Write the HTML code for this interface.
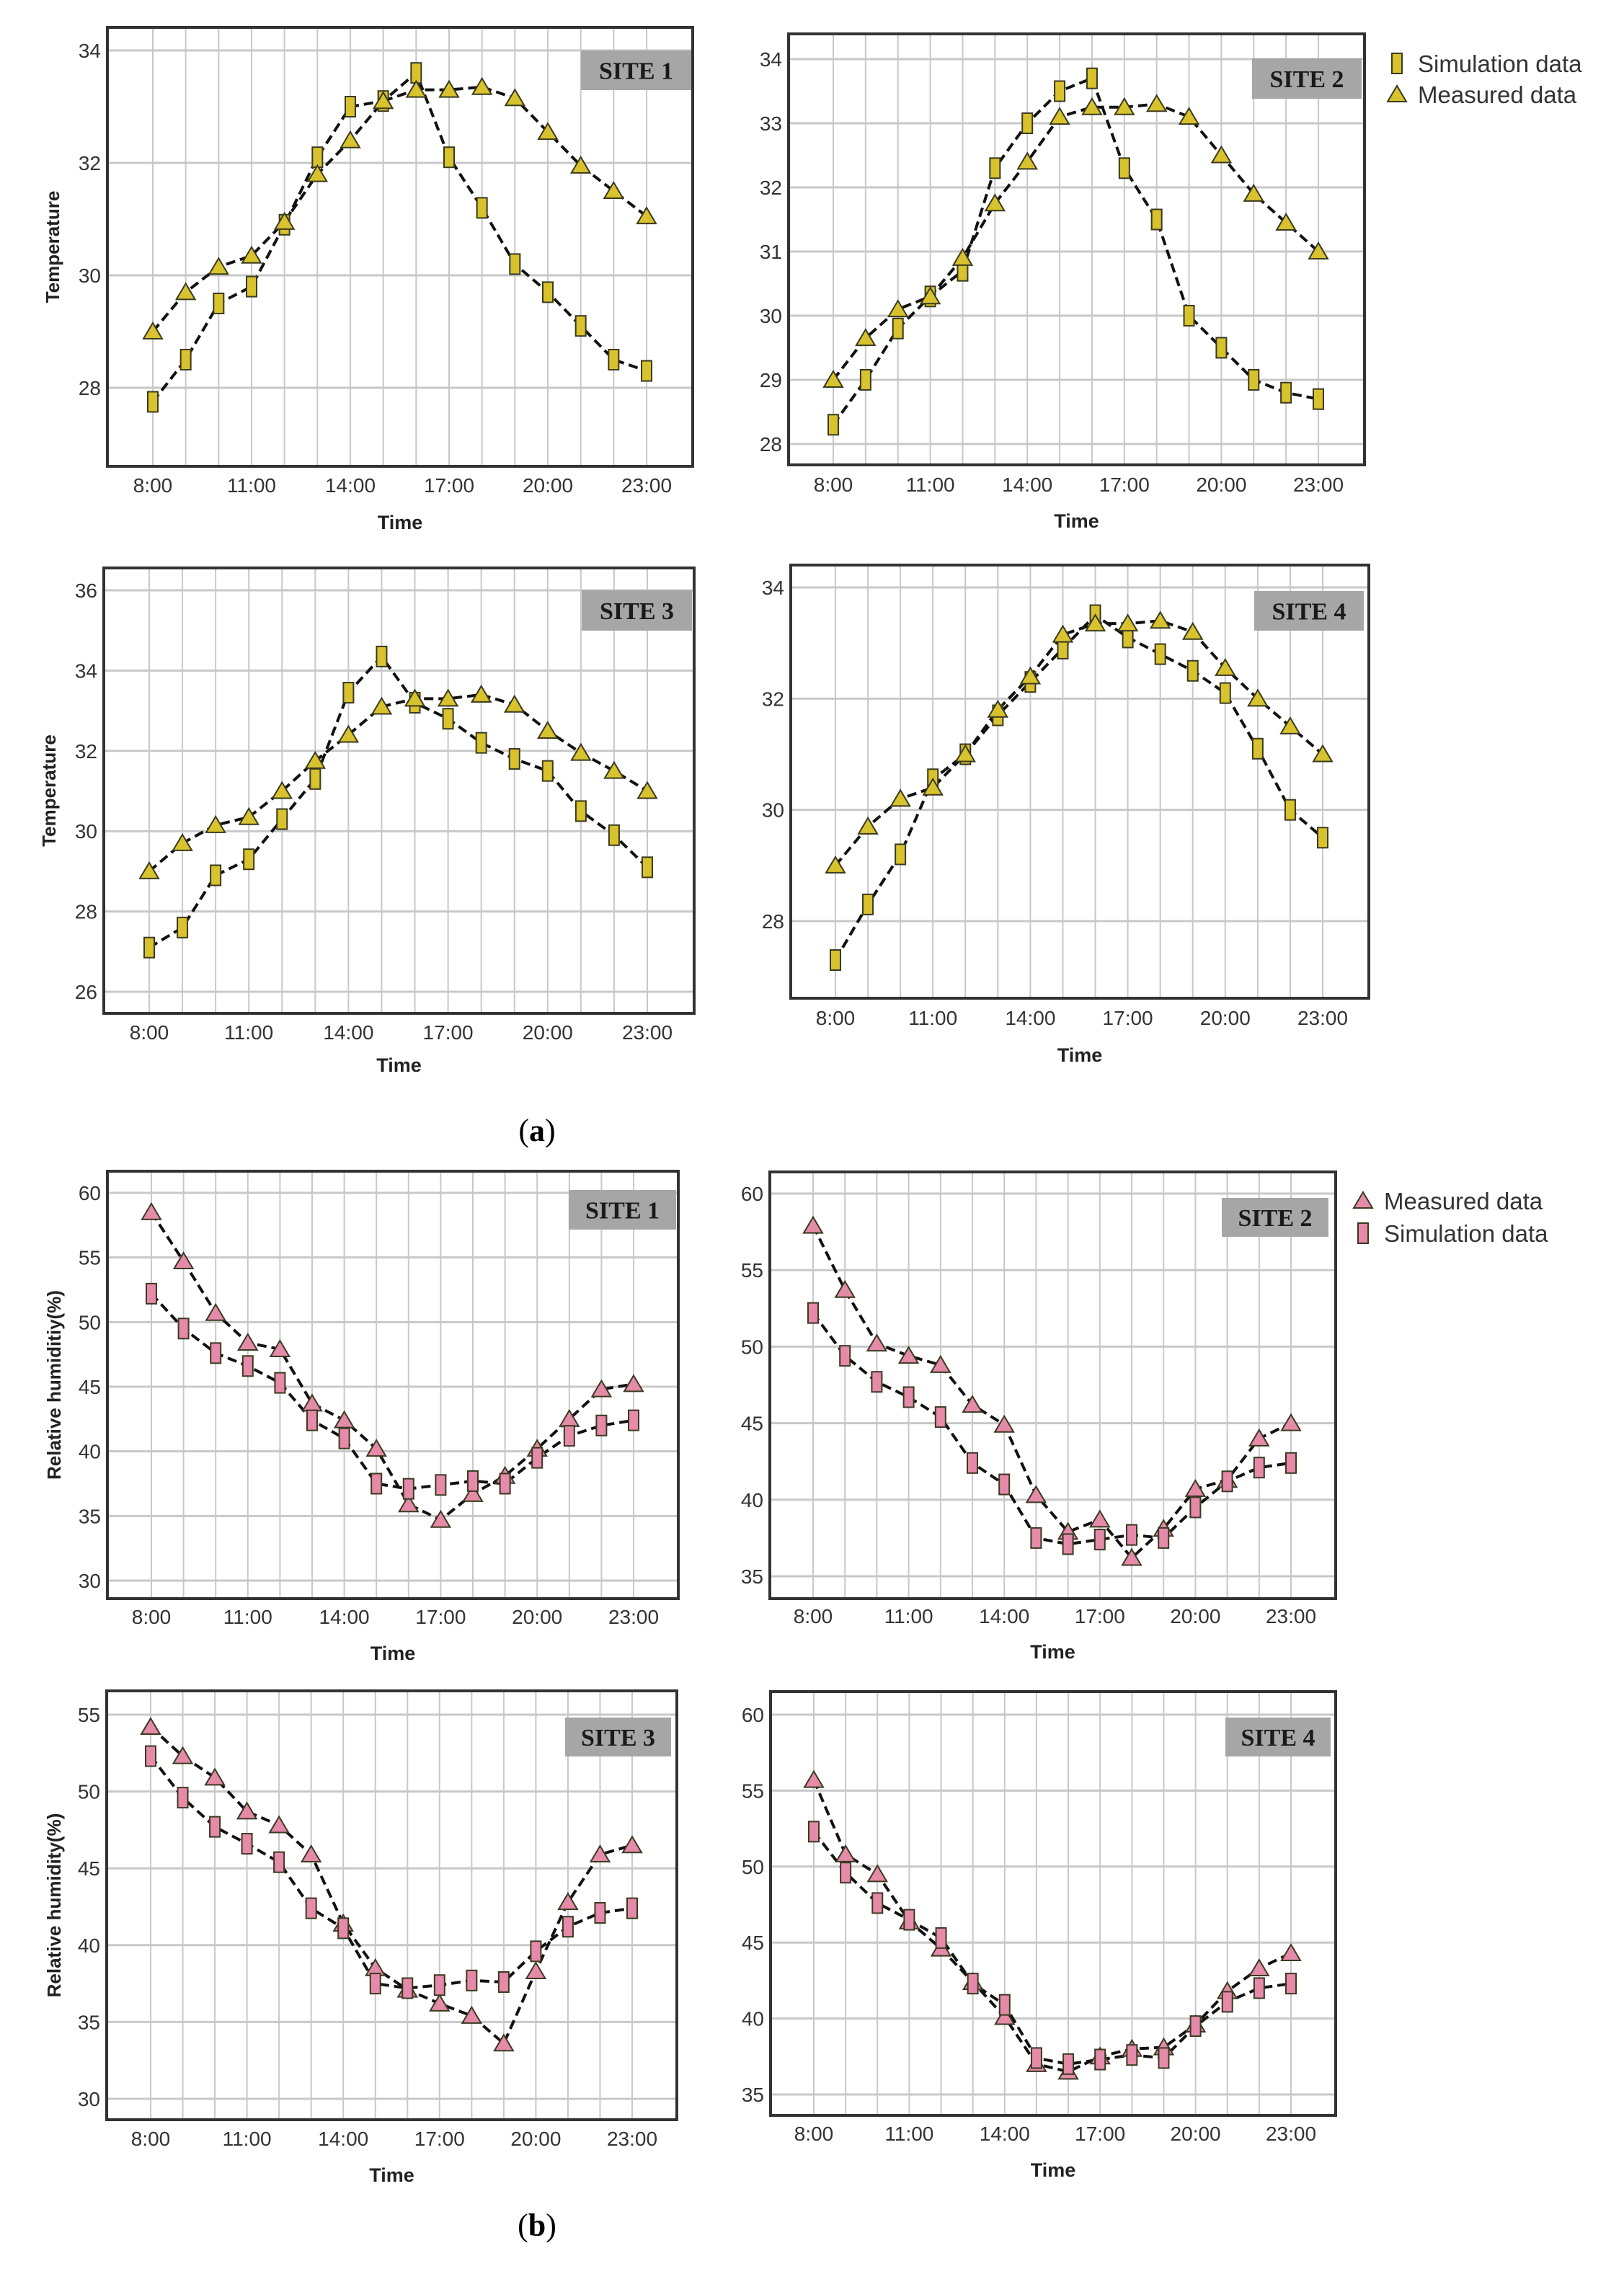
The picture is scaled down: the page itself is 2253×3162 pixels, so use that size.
<!DOCTYPE html>
<html><head><meta charset="utf-8"><style>
html,body{margin:0;padding:0;background:#fff;}
svg{display:block;}
</style></head><body>
<svg id="fig" width="2253" height="3162" viewBox="0 0 2253 3162" xmlns="http://www.w3.org/2000/svg">
<rect width="2253" height="3162" fill="#fff"/>
<text x="745" y="1583" font-family="Liberation Serif, serif" font-size="44" text-anchor="middle">(<tspan font-weight="bold">a</tspan>)</text>
<text x="745" y="3102" font-family="Liberation Serif, serif" font-size="44" text-anchor="middle">(<tspan font-weight="bold">b</tspan>)</text>
</svg>
<script>
const hours = ["8:00","9:00","10:00","11:00","12:00","13:00","14:00","15:00","16:00","17:00","18:00","19:00","20:00","21:00","22:00","23:00"];
const xTickLabels = ["8:00","11:00","14:00","17:00","20:00","23:00"];
const tempTicks1 = [28,30,32,34];
const tempTicks2 = [28,29,30,31,32,33,34];
const tempTicks3 = [26,28,30,32,34,36];
const tempTicks4 = [28,30,32,34];
const humTicks1 = [30,35,40,45,50,55,60];
const humTicks2 = [35,40,45,50,55,60];
const humTicks3 = [30,35,40,45,50,55];
const humTicks4 = [35,40,45,50,55,60];
const t1Sim = [27.75,28.5,29.5,29.8,30.9,32.1,33.0,33.1,33.6,32.1,31.2,30.2,29.7,29.1,28.5,28.3];
const t1Meas = [29.0,29.7,30.15,30.35,30.95,31.8,32.4,33.1,33.3,33.3,33.35,33.15,32.55,31.95,31.5,31.05];
const t2Sim = [28.3,29.0,29.8,30.3,30.7,32.3,33.0,33.5,33.7,32.3,31.5,30.0,29.5,29.0,28.8,28.7];
const t2Meas = [29.0,29.65,30.1,30.3,30.9,31.75,32.4,33.1,33.25,33.25,33.3,33.1,32.5,31.9,31.45,31.0];
const t3Sim = [27.1,27.6,28.9,29.3,30.3,31.3,33.45,34.35,33.2,32.8,32.2,31.8,31.5,30.5,29.9,29.1];
const t3Meas = [29.0,29.7,30.15,30.35,31.0,31.75,32.4,33.1,33.3,33.3,33.4,33.15,32.5,31.95,31.5,31.0];
const t4Sim = [27.3,28.3,29.2,30.55,31.0,31.7,32.3,32.9,33.5,33.1,32.8,32.5,32.1,31.1,30.0,29.5];
const t4Meas = [29.0,29.7,30.2,30.4,31.0,31.8,32.4,33.15,33.35,33.35,33.4,33.2,32.55,32.0,31.5,31.0];
const h1Sim = [52.2,49.5,47.6,46.6,45.3,42.4,41.0,37.5,37.1,37.4,37.7,37.5,39.5,41.2,42.0,42.4];
const h1Meas = [58.5,54.7,50.7,48.4,47.9,43.7,42.4,40.2,35.9,34.7,36.7,38.1,40.2,42.5,44.8,45.2];
const h2Sim = [52.2,49.4,47.7,46.7,45.4,42.4,41.0,37.5,37.1,37.4,37.7,37.5,39.5,41.2,42.1,42.4];
const h2Meas = [57.9,53.7,50.2,49.4,48.8,46.2,44.9,40.3,37.9,38.7,36.2,38.1,40.7,41.3,44.0,45.0];
const h3Sim = [52.3,49.6,47.7,46.6,45.4,42.4,41.1,37.5,37.2,37.4,37.7,37.6,39.6,41.2,42.1,42.4];
const h3Meas = [54.2,52.3,50.9,48.7,47.8,45.9,41.4,38.5,37.1,36.2,35.4,33.6,38.3,42.8,45.9,46.5];
const h4Sim = [52.3,49.6,47.6,46.5,45.3,42.3,40.9,37.4,37.0,37.3,37.6,37.4,39.5,41.1,42.0,42.3];
const h4Meas = [55.7,50.8,49.5,46.4,44.6,42.4,40.1,37.0,36.5,37.5,38.0,38.1,39.6,41.8,43.3,44.3];

const NS = "http://www.w3.org/2000/svg";
const svg = document.getElementById('fig');
function mk(tag, attrs, parent){
  const e = document.createElementNS(NS, tag);
  for (const k in attrs) e.setAttribute(k, attrs[k]);
  (parent||svg).appendChild(e);
  return e;
}
const YEL = "#d8c22e", PINK = "#e58aa9";

const panels = [
 {id:"temp-site1", L:149,R:961,T:38,B:647, x0:212,x1:897, v1:34,p1:70,v2:28,p2:538, ticks:tempTicks1, sim:t1Sim, meas:t1Meas, color:YEL, site:"SITE 1", box:[806,70,153,55], ytitle:"Temperature", ytx:75, tly:673, tty:724},
 {id:"temp-site2", L:1094,R:1893,T:47,B:645, x0:1156,x1:1829, v1:34,p1:82,v2:28,p2:616, ticks:tempTicks2, sim:t2Sim, meas:t2Meas, color:YEL, site:"SITE 2", box:[1737,81,152,56], ytitle:null, tly:672, tty:722},
 {id:"temp-site3", L:144,R:963,T:788,B:1406, x0:207,x1:898, v1:36,p1:819,v2:26,p2:1376, ticks:tempTicks3, sim:t3Sim, meas:t3Meas, color:YEL, site:"SITE 3", box:[807,819,153,56], ytitle:"Temperature", ytx:70, tly:1432, tty:1477},
 {id:"temp-site4", L:1097,R:1899,T:784,B:1385, x0:1159,x1:1835, v1:34,p1:815,v2:28,p2:1278, ticks:tempTicks4, sim:t4Sim, meas:t4Meas, color:YEL, site:"SITE 4", box:[1740,820,152,55], ytitle:null, tly:1412, tty:1463},
 {id:"hum-site1", L:149,R:941,T:1625,B:2218, x0:210,x1:879, v1:60,p1:1655,v2:30,p2:2193, ticks:humTicks1, sim:h1Sim, meas:h1Meas, color:PINK, site:"SITE 1", box:[789,1651,149,55], ytitle:"Relative humiditiy(%)", ytx:77, tly:2243, tty:2293},
 {id:"hum-site2", L:1068,R:1853,T:1626,B:2218, x0:1128,x1:1791, v1:60,p1:1656,v2:35,p2:2187, ticks:humTicks2, sim:h2Sim, meas:h2Meas, color:PINK, site:"SITE 2", box:[1695,1662,148,54], ytitle:null, tly:2242, tty:2291},
 {id:"hum-site3", L:148,R:939,T:2346,B:2941, x0:209,x1:877, v1:55,p1:2379,v2:30,p2:2912, ticks:humTicks3, sim:h3Sim, meas:h3Meas, color:PINK, site:"SITE 3", box:[784,2383,147,54], ytitle:"Relative humidity(%)", ytx:77, tly:2967, tty:3017},
 {id:"hum-site4", L:1069,R:1853,T:2347,B:2935, x0:1129,x1:1791, v1:60,p1:2379,v2:35,p2:2906, ticks:humTicks4, sim:h4Sim, meas:h4Meas, color:PINK, site:"SITE 4", box:[1700,2383,146,54], ytitle:null, tly:2960, tty:3010}
];

function squareMarker(g, x, y, color){
  const r = mk('rect', {x:x-7, y:y-14, width:14, height:28, fill:color, stroke:"#3a3a20", 'stroke-width':2}, g);
  
  
}
function triMarker(g, x, y, color){
  const p = mk('polygon', {points:`${x},${y-12} ${x-13},${y+10} ${x+13},${y+10}`, fill:color, stroke:"#3a3a20", 'stroke-width':2}, g);
  
  
}

panels.forEach(P => {
  const g = mk('g', {});
  
  
  const xs = i => P.x0 + (P.x1 - P.x0) * i / (hours.length - 1);
  const ys = v => P.p1 + (P.p2 - P.p1) * (v - P.v1) / (P.v2 - P.v1);
  mk('rect', {x:P.L, y:P.T, width:P.R-P.L, height:P.B-P.T, fill:"#fff"}, g);
  // vertical grid
  hours.forEach((h,i) => {
    const l = mk('line', {x1:xs(i), x2:xs(i), y1:P.T, y2:P.B, stroke:"#c8c8c8", 'stroke-width':2}, g);
    
    
  });
  // horizontal grid + y tick labels
  P.ticks.forEach(t => {
    const l = mk('line', {x1:P.L, x2:P.R, y1:ys(t), y2:ys(t), stroke:"#c8c8c8", 'stroke-width':3}, g);
    
    
    const tx = mk('text', {x:P.L-9, y:ys(t)+10, 'text-anchor':'end', 'font-family':'Liberation Sans, sans-serif', 'font-size':28, fill:'#333'}, g);
    
    
    tx.textContent = t;
  });
  // x tick labels
  xTickLabels.forEach(lab => {
    const i = hours.indexOf(lab);
    const tx = mk('text', {x:xs(i), y:P.tly+10, 'text-anchor':'middle', 'font-family':'Liberation Sans, sans-serif', 'font-size':28, fill:'#333'}, g);
    
    
    tx.textContent = lab;
  });
  // frame
  const fr = mk('rect', {x:P.L, y:P.T, width:P.R-P.L, height:P.B-P.T, fill:"none", stroke:"#333", 'stroke-width':4}, g);
  
  
  // site label
  const b = mk('rect', {x:P.box[0], y:P.box[1], width:P.box[2], height:P.box[3], fill:"#a6a6a6"}, g);
  
  
  const st = mk('text', {x:P.box[0]+P.box[2]/2, y:P.box[1]+P.box[3]/2+12, 'text-anchor':'middle', 'font-family':'Liberation Serif, serif', 'font-weight':'bold', 'font-size':34, fill:'#1a1a1a'}, g);
  
  
  st.textContent = P.site;
  // lines
  [P.sim, P.meas].forEach((arr, k) => {
    const pts = arr.map((v,i) => xs(i) + ',' + ys(v)).join(' ');
    const pl = mk('polyline', {points:pts, fill:'none', stroke:'#111', 'stroke-width':4, 'stroke-dasharray':'13 7'}, g);
    
    
  });
  const drawSim = () => P.sim.forEach((v,i) => squareMarker(g, xs(i), ys(v), P.color));
  const drawMeas = () => P.meas.forEach((v,i) => triMarker(g, xs(i), ys(v), P.color));
  if (P.color === YEL) { drawSim(); drawMeas(); } else { drawMeas(); drawSim(); }
  // axis titles
  const xt = mk('text', {x:(P.L+P.R)/2, y:P.tty+10, 'text-anchor':'middle', 'font-family':'Liberation Sans, sans-serif', 'font-weight':'bold', 'font-size':27, fill:'#222'}, g);
  
  
  xt.textContent = 'Time';
  if (P.ytitle) {
    const cy = (P.T+P.B)/2;
    const yt = mk('text', {x:P.ytx, y:cy, transform:`rotate(-90 ${P.ytx} ${cy})`, 'text-anchor':'middle', 'dominant-baseline':'middle', 'font-family':'Liberation Sans, sans-serif', 'font-weight':'bold', 'font-size':26, fill:'#222'}, g);
    
    
    yt.textContent = P.ytitle;
  }
});

// legends
function legendEntry(kind, color, x, y, label){
  const g = mk('g', {});
  
  
  if (kind === 'sq') squareMarker(g, x, y, color); else triMarker(g, x, y, color);
  const t = mk('text', {x:x+29, y:y+12, 'font-family':'Liberation Sans, sans-serif', 'font-size':33, fill:'#333'}, g);
  t.textContent = label;
}
legendEntry('sq', YEL, 1938, 88, 'Simulation data');
legendEntry('tri', YEL, 1938, 131, 'Measured data');
legendEntry('tri', PINK, 1891, 1666, 'Measured data');
legendEntry('sq', PINK, 1891, 1711, 'Simulation data');
</script>
</body></html>
